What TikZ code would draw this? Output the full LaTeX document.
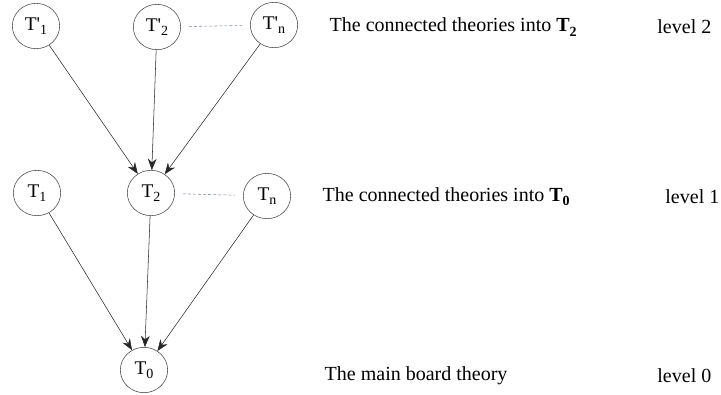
\documentclass[tikz,border=0pt]{standalone}
\usepackage{fontspec}
\setmainfont{Liberation Serif}
\usetikzlibrary{arrows.meta,shapes.geometric}

\newcommand{\lowsub}[1]{\raisebox{-0.45ex}{\fontsize{10.5}{10.5}\selectfont #1}}

\tikzset{
  theory/.style={draw=black!75,ellipse,minimum width=35.5pt,minimum height=34pt,inner sep=0pt,font=\fontsize{14.5}{16}\selectfont},
  feed/.style={draw=black!85,-{Stealth[length=8.5pt,width=6.5pt]}},
  more/.style={draw={rgb,255:red,125;green,135;blue,155},dash pattern=on 2.2pt off 1.6pt,thin,shorten >=6pt,shorten <=6pt},
  caption/.style={font=\fontsize{15}{17}\selectfont}
}

\begin{document}
\begin{tikzpicture}[x=0.75pt,y=-0.75pt]
\useasboundingbox (0,0) rectangle (721,394);

% level 2
\node[theory] (p1) at (36,26) {T\textquotesingle\lowsub{1}};
\node[theory] (p2) at (157,27) {T\textquotesingle\lowsub{2}};
\node[theory] (pn) at (274,25) {T\textquotesingle\lowsub{n}};

% level 1
\node[theory] (t1) at (37,193) {T\lowsub{1}};
\node[theory] (t2) at (151,193) {T\lowsub{2}};
\node[theory] (tn) at (267,196) {T\lowsub{n}};

% level 0
\node[theory] (t0) at (144,370) {T\lowsub{0}};

\draw[more] (p2) -- (pn);
\draw[more] (t2) -- (tn);

\draw[feed] (p1) -- (t2);
\draw[feed] (p2) -- (t2);
\draw[feed] (pn) -- (t2);
\draw[feed] (t1) -- (t0);
\draw[feed] (t2) -- (t0);
\draw[feed] (tn) -- (t0);

\node[caption,anchor=west] (c2) at (325,27) {The connected theories into \textbf{T\lowsub{2}}};
\node[caption,anchor=west] (c1) at (318,197) {The connected theories into \textbf{T\lowsub{0}}};
\node[caption,anchor=west] (c0) at (320,376) {The main board theory};
\node[caption,anchor=east] (l2) at (716,27) {level 2};
\node[caption,anchor=east] (l1) at (724,197) {level 1};
\node[caption,anchor=east] (l0) at (716,376) {level 0};
\end{tikzpicture}
\end{document}
